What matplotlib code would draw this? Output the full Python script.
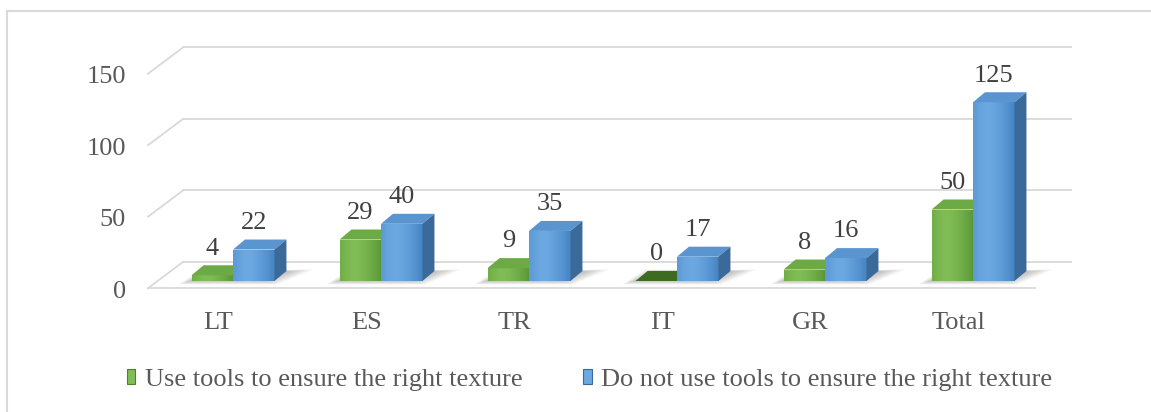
import matplotlib
matplotlib.use("Agg")
import matplotlib.pyplot as plt
import numpy as np
from matplotlib.patches import Polygon, Patch
from matplotlib.lines import Line2D
from matplotlib.colors import to_rgb

# ---------------- data ----------------
categories = ["LT", "ES", "TR", "IT", "GR", "Total"]
use_tools = [4, 29, 9, 0, 8, 50]
no_tools = [22, 40, 35, 17, 16, 125]
series_names = ["Use tools to ensure the right texture",
                "Do not use tools to ensure the right texture"]
y_ticks = [0, 50, 100, 150]

plt.rcParams['font.family'] = ['Liberation Serif', 'DejaVu Serif']

W, H = 1151, 412
fig = plt.figure(figsize=(W / 100, H / 100), dpi=100)
ax = fig.add_axes([0, 0, 1, 1])
ax.axis('off')

# scale: one category = 148 px, one unit = 1.43 px
PXX, X0 = 148.0, 233.0
PXY, Y0 = 1.43, 281.0
xlim = (-X0 / PXX, (W - X0) / PXX)
ylim = ((Y0 - H) / PXY, Y0 / PXY)

BW = 0.28          # bar width
DX, DY = 0.081, 7.0  # bar depth offsets
BACK_DX, BACK_DY = -0.338, 13.3   # back wall position
FRONT_DX, FRONT_DY = -0.574, -5.0  # front edge of side wall
RIGHT_BACK = 5.662
RIGHT_FRONT = 5.42
GRID = '#D9D9D9'
TXT = '#595959'
FS = 19

# gridlines: back wall + left wall diagonals
for v in y_ticks:
    ax.plot([BACK_DX, RIGHT_BACK], [v + BACK_DY, v + BACK_DY], color=GRID, lw=1.3, zorder=1)
    ax.plot([FRONT_DX, BACK_DX], [v + FRONT_DY, v + BACK_DY], color=GRID, lw=1.3, zorder=1)
    ax.text(FRONT_DX - 0.15, v + FRONT_DY - 2.5, str(v), ha='right', va='center',
            fontsize=FS, color=TXT)
# floor front edge
ax.plot([FRONT_DX, RIGHT_FRONT], [FRONT_DY, FRONT_DY], color=GRID, lw=1.3, zorder=1)

green = dict(light='#80BD55', dark='#5A9636', top='#6BAA45', side='#4C8229', zero='#3E6B22')
blue = dict(light='#6CA9E2', dark='#4583C4', top='#5A95D0', side='#3A6A99', zero='#3A6A99')


def grad_img(c_light, c_dark, n=64):
    a, b = np.array(to_rgb(c_light)), np.array(to_rgb(c_dark))
    t = np.linspace(0, 1, n)
    prof = np.clip(np.abs(t - 0.35) / 0.65, 0, 1) ** 1.5
    row = a[None, :] * (1 - prof[:, None]) + b[None, :] * prof[:, None]
    return row[None, :, :]


def shadow(xl, xr, z):
    for k in range(8):
        s = 0.012 * k
        poly = Polygon([(xl - 0.09 + s, -2.5 + k * 0.4), (xr + 0.02 - s, -2.5 + k * 0.4),
                        (xr + DX + 0.18 - 2 * s, DY + 1.0 - k * 0.2), (xl + DX - 0.02 + s, DY + 1.0 - k * 0.2)],
                       closed=True, facecolor='black', alpha=0.035, edgecolor='none', zorder=z)
        ax.add_patch(poly)


def bar3d(x, v, cols, z):
    if v <= 0:
        top = Polygon([(x, 0), (x + BW, 0), (x + BW + DX, DY), (x + DX, DY)],
                      closed=True, facecolor=cols['zero'], edgecolor='none', zorder=z)
        ax.add_patch(top)
        return
    rects = ax.bar([x], [v], width=BW, align='edge', color=cols['light'],
                   edgecolor='none', zorder=z)
    r = rects[0]
    im = ax.imshow(grad_img(cols['light'], cols['dark']), extent=(x, x + BW, 0, v),
                   aspect='auto', zorder=z + 0.1, interpolation='bilinear')
    im.set_clip_path(r)
    top = Polygon([(x, v), (x + BW, v), (x + BW + DX, v + DY), (x + DX, v + DY)],
                  closed=True, facecolor=cols['top'], edgecolor='none', zorder=z + 0.2)
    side = Polygon([(x + BW, 0), (x + BW + DX, DY), (x + BW + DX, v + DY), (x + BW, v)],
                   closed=True, facecolor=cols['side'], edgecolor='none', zorder=z + 0.2)
    ax.add_patch(top)
    ax.add_patch(side)


for i, (cat, g, b) in enumerate(zip(categories, use_tools, no_tools)):
    shadow(i - BW, i + BW, 2)
    bar3d(i - BW, g, green, 3)
    bar3d(i, b, blue, 4)
    ax.text(i - BW / 2, g + DY + 4, str(g), ha='center', va='bottom', fontsize=FS, color='#404040', zorder=6)
    ax.text(i + BW / 2, b + DY + 4, str(b), ha='center', va='bottom', fontsize=FS, color='#404040', zorder=6)
    ax.text(i - 0.10, -29.5, cat, ha='center', va='center', fontsize=FS, color=TXT)

ax.set_xlim(*xlim)
ax.set_ylim(*ylim)

# legend
handles = [Patch(facecolor=green['light'], edgecolor=green['side'], lw=0.8),
           Patch(facecolor=blue['light'], edgecolor=blue['side'], lw=0.8)]
fig.legend(handles=handles, labels=series_names, loc='center',
           bbox_to_anchor=(0.512, 1 - 380 / H), ncol=2, frameon=False,
           fontsize=FS, labelcolor=TXT, handlelength=0.33, handleheight=0.5,
           handletextpad=0.35, columnspacing=2.3)

# outer frame (top and left visible)
fig.add_artist(Line2D([7 / W, 1], [1 - 11 / H, 1 - 11 / H], color=GRID, lw=1.5, transform=fig.transFigure))
fig.add_artist(Line2D([7 / W, 7 / W], [0, 1 - 11 / H], color=GRID, lw=1.5, transform=fig.transFigure))

fig.savefig('out.png', dpi=100, facecolor='white')
